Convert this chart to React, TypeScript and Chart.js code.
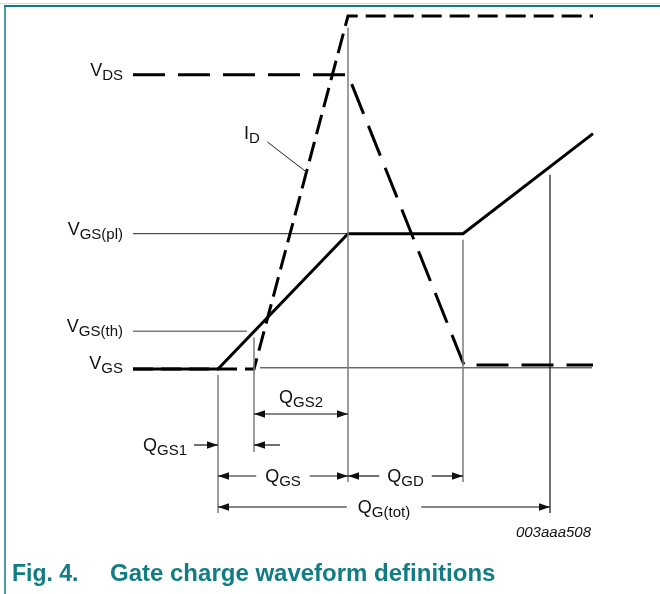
import React, { useEffect, useRef } from "react";
import { Chart, registerables } from "chart.js";
Chart.register(...registerables);

// Gate charge axis (arbitrary nC units)
const Q_START = 0;
const Q_GS1 = 8.5; // VGS starts rising
const Q_TH = 12.1; // VGS reaches threshold, ID starts
const Q_GS = 21.5; // plateau start
const Q_PL_END = 33; // plateau end
const Q_TOT = 41.7; // total gate charge
const Q_END = 46;

// Levels (arbitrary units)
const V_DS_OFF = 12.5;
const V_DS_ON = 0.17;
const I_D_MAX = 15;
const V_GS_PL = 5.75;
const V_GS_TH = 1.6;
const V_GS_END = 10;

// Waveforms
const vdsQ = [Q_START, Q_GS, Q_PL_END + 0.1, Q_END];
const vdsV = [V_DS_OFF, V_DS_OFF, V_DS_ON, V_DS_ON];
const idQ = [Q_START, Q_TH, Q_GS, Q_END];
const idV = [0, 0, I_D_MAX, I_D_MAX];
const vgsQ = [Q_START, Q_GS1, Q_GS, Q_PL_END, Q_END];
const vgsV = [0, 0, V_GS_PL, V_GS_PL, V_GS_END];

// Reference level lines
const plQ = [Q_START, Q_GS];
const thQ = [Q_START, 11.4];
const baseQ = [12.7, 45.9];

const pts = (xs: number[], ys: number[]) => xs.map((x, i) => ({ x, y: ys[i] }));

const FONT = '"Liberation Sans", Arial, sans-serif';
const TEXT = "#111";
const TEAL = "#117c83";

function drawSub(ctx: CanvasRenderingContext2D, main: string, sub: string, x: number, y: number, align: "left" | "right" | "center", size = 18, subSize = 15) {
  ctx.save();
  ctx.fillStyle = TEXT;
  ctx.textAlign = "left";
  ctx.textBaseline = "alphabetic";
  ctx.font = `${size}px ${FONT}`;
  const wm = ctx.measureText(main).width;
  ctx.font = `${subSize}px ${FONT}`;
  const ws = ctx.measureText(sub).width;
  const w = wm + ws;
  let sx = x;
  if (align === "right") sx = x - w;
  if (align === "center") sx = x - w / 2;
  ctx.font = `${size}px ${FONT}`;
  ctx.fillText(main, sx, y);
  ctx.font = `${subSize}px ${FONT}`;
  ctx.fillText(sub, sx + wm, y + 4);
  ctx.restore();
  return w;
}

function subWidth(ctx: CanvasRenderingContext2D, main: string, sub: string, size = 18, subSize = 15) {
  ctx.save();
  ctx.font = `${size}px ${FONT}`;
  const wm = ctx.measureText(main).width;
  ctx.font = `${subSize}px ${FONT}`;
  const ws = ctx.measureText(sub).width;
  ctx.restore();
  return wm + ws;
}

function head(ctx: CanvasRenderingContext2D, tip: number, y: number, dir: number) {
  ctx.beginPath();
  ctx.moveTo(tip, y);
  ctx.lineTo(tip - dir * 11, y - 3.8);
  ctx.lineTo(tip - dir * 11, y + 3.8);
  ctx.closePath();
  ctx.fill();
}

function hline(ctx: CanvasRenderingContext2D, x1: number, x2: number, y: number) {
  ctx.beginPath();
  ctx.moveTo(x1, y);
  ctx.lineTo(x2, y);
  ctx.stroke();
}

function vline(ctx: CanvasRenderingContext2D, x: number, y1: number, y2: number, color: string, w: number) {
  ctx.save();
  ctx.strokeStyle = color;
  ctx.lineWidth = w;
  ctx.beginPath();
  ctx.moveTo(x, y1);
  ctx.lineTo(x, y2);
  ctx.stroke();
  ctx.restore();
}

// dimension with text in the middle and arrows pointing outwards
function dimText(ctx: CanvasRenderingContext2D, xa: number, xb: number, y: number, main: string, sub: string, gap: number) {
  const w = subWidth(ctx, main, sub);
  const mid = (xa + xb) / 2;
  hline(ctx, xa, mid - w / 2 - gap, y);
  hline(ctx, mid + w / 2 + gap, xb, y);
  head(ctx, xa, y, -1);
  head(ctx, xb, y, 1);
  drawSub(ctx, main, sub, mid, y + 6, "center");
}

const annotations = {
  id: "annotations",
  afterDatasetsDraw(chart: any) {
    const ctx: CanvasRenderingContext2D = chart.ctx;
    const xs = chart.scales.x;
    const ys = chart.scales.y;
    const X = (v: number) => xs.getPixelForValue(v);
    const Y = (v: number) => ys.getPixelForValue(v);
    const py0 = Y(0);

    ctx.save();
    // frame
    ctx.strokeStyle = "#dcdcdc";
    ctx.lineWidth = 1;
    hline(ctx, 0, 660, 3.5);
    ctx.strokeStyle = TEAL;
    ctx.lineWidth = 2;
    hline(ctx, 4, 660, 6);
    vline(ctx, 5, 5, 594, TEAL, 1.5);

    // extension lines
    vline(ctx, X(Q_GS1), py0 + 6, py0 + 144, "#7d7d7d", 1.5);
    vline(ctx, X(Q_TH), Y(V_GS_TH) + 6, py0 + 83, "#7d7d7d", 1.5);
    vline(ctx, X(Q_GS), Y(14.5), py0 + 113, "#7d7d7d", 1.5);
    vline(ctx, X(Q_PL_END), Y(V_GS_PL) + 6, py0 + 113, "#7d7d7d", 1.5);
    vline(ctx, X(Q_TOT), Y(8.25), py0 + 144, "#111", 1.2);

    // level labels
    drawSub(ctx, "V", "DS", 123, Y(V_DS_OFF) + 1, "right");
    drawSub(ctx, "V", "GS(pl)", 123, Y(V_GS_PL) + 1, "right");
    drawSub(ctx, "V", "GS(th)", 123, Y(V_GS_TH) + 1, "right");
    drawSub(ctx, "V", "GS", 123, Y(0), "right");

    // ID label with leader
    drawSub(ctx, "I", "D", 244, 139, "left");
    const idLeadV = 8.37;
    const idLeadQ = Q_TH + ((Q_GS - Q_TH) * idLeadV) / I_D_MAX;
    ctx.strokeStyle = "#222";
    ctx.lineWidth = 1;
    ctx.beginPath();
    ctx.moveTo(X(idLeadQ) - 39, Y(idLeadV) - 30);
    ctx.lineTo(X(idLeadQ), Y(idLeadV));
    ctx.stroke();

    // dimension arrows
    ctx.strokeStyle = "#111";
    ctx.fillStyle = "#111";
    ctx.lineWidth = 1.2;

    // QGS2
    const r2 = py0 + 45;
    hline(ctx, X(Q_TH), X(Q_GS), r2);
    head(ctx, X(Q_TH), r2, -1);
    head(ctx, X(Q_GS), r2, 1);
    drawSub(ctx, "Q", "GS2", (X(Q_TH) + X(Q_GS)) / 2, py0 + 34, "center");

    // QGS1
    const r1 = py0 + 76;
    hline(ctx, X(Q_GS1) - 24, X(Q_GS1), r1);
    head(ctx, X(Q_GS1), r1, 1);
    hline(ctx, X(Q_TH), X(Q_TH) + 26, r1);
    head(ctx, X(Q_TH), r1, -1);
    drawSub(ctx, "Q", "GS1", X(Q_GS1) - 31, r1 + 6, "right");

    // QGS & QGD
    const r3 = py0 + 107;
    ctx.fillStyle = "#111";
    dimText(ctx, X(Q_GS1), X(Q_GS), r3, "Q", "GS", 9);
    ctx.fillStyle = "#111";
    dimText(ctx, X(Q_GS), X(Q_PL_END), r3, "Q", "GD", 8);

    // QG(tot)
    const r4 = py0 + 138;
    ctx.fillStyle = "#111";
    dimText(ctx, X(Q_GS1), X(Q_TOT), r4, "Q", "G(tot)", 11);

    // figure code
    ctx.fillStyle = TEXT;
    ctx.font = `italic 15px ${FONT}`;
    ctx.textAlign = "right";
    ctx.textBaseline = "alphabetic";
    ctx.fillText("003aaa508", 591, 537);

    // caption
    ctx.fillStyle = TEAL;
    ctx.textAlign = "left";
    ctx.font = `bold 23px ${FONT}`;
    ctx.fillText("Fig. 4.", 12, 581);
    ctx.font = `bold 24px ${FONT}`;
    ctx.fillText("Gate charge waveform definitions", 110, 581);
    ctx.restore();
  },
};

export default function App() {
  const ref = useRef<HTMLCanvasElement>(null);
  useEffect(() => {
    if (!ref.current) return;
    const thick = { borderColor: "#000", borderWidth: 3, pointRadius: 0, fill: false, tension: 0, borderJoinStyle: "miter" as const, borderCapStyle: "butt" as const, clip: false as any };
    const chart = new Chart(ref.current, {
      type: "scatter",
      data: {
        datasets: [
          { ...thick, label: "VGS", data: pts(vgsQ, vgsV), showLine: true, order: 1 },
          { ...thick, label: "VDS", data: pts(vdsQ, vdsV), showLine: true, borderDash: [32, 13], order: 2 },
          { ...thick, label: "ID", data: pts(idQ, idV), showLine: true, borderDash: [20, 8], order: 3 },
          { label: "VGS(pl)", data: pts(plQ, [V_GS_PL, V_GS_PL]), showLine: true, borderColor: "#222", borderWidth: 1, pointRadius: 0, clip: false as any, order: 4 },
          { label: "VGS(th)", data: pts(thQ, [V_GS_TH, V_GS_TH]), showLine: true, borderColor: "#7d7d7d", borderWidth: 1.5, pointRadius: 0, clip: false as any, order: 5 },
          { label: "base", data: pts(baseQ, [0.05, 0.05]), showLine: true, borderColor: "#222", borderWidth: 1, pointRadius: 0, clip: false as any, order: 6 },
        ],
      },
      options: {
        responsive: false,
        animation: false,
        events: [],
        layout: { padding: { left: 133, right: 67, top: 16, bottom: 225 } },
        scales: {
          x: { type: "linear", min: 0, max: 46, display: false },
          y: { type: "linear", min: 0, max: 15, display: false },
        },
        plugins: { legend: { display: false }, tooltip: { enabled: false } },
      },
      plugins: [annotations],
    });
    return () => chart.destroy();
  }, []);
  return (
    <div style={{ position: "absolute", left: 0, top: 0, width: 660, height: 594, background: "#fff" }}>
      <canvas ref={ref} width={660} height={594} />
    </div>
  );
}
